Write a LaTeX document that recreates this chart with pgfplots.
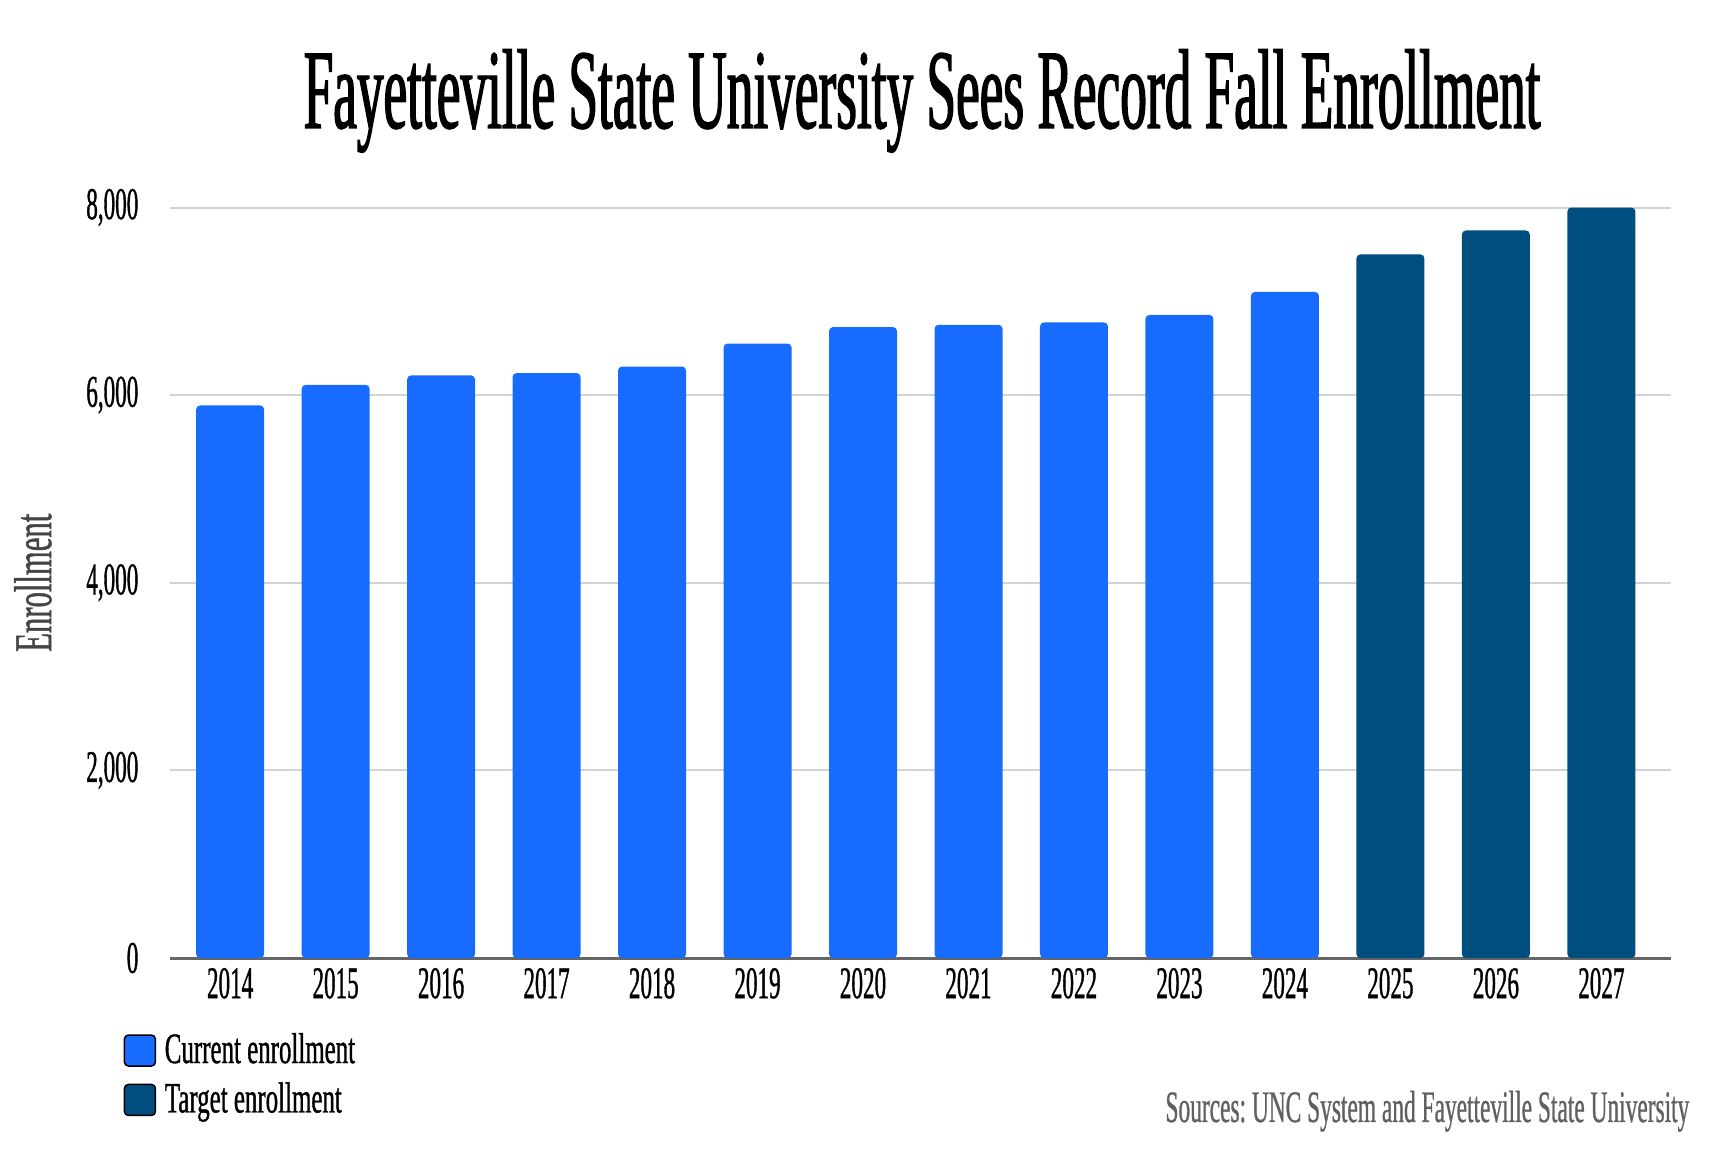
\documentclass[border=0pt]{standalone}
\usepackage{fontspec}
\usepackage{pgfplots}
\pgfplotsset{compat=1.18}
\setmainfont{Liberation Serif}
\newfontfamily\titlefont[FakeStretch=0.47, FakeBold=1.2]{Liberation Serif}
\newfontfamily\condfont[FakeStretch=0.575, FakeBold=0.8]{Liberation Serif}
\newfontfamily\srcfont[FakeStretch=0.52, FakeBold=0.6]{Liberation Serif}
\newfontfamily\numfont[FakeStretch=0.51, FakeBold=0.8]{Liberation Serif}
\frenchspacing

\definecolor{curblue}{HTML}{176CFF}
\definecolor{tgtblue}{HTML}{004E80}
\definecolor{gridgray}{HTML}{D3D3D3}
\definecolor{axisgray}{HTML}{666666}
\definecolor{labgray}{HTML}{454545}
\definecolor{srcgray}{HTML}{606060}

\begin{document}
\begin{tikzpicture}
\path[use as bounding box] (-51pt,-57.9pt) rectangle (465.9pt,287.4pt);

\begin{axis}[
    at={(0,0)}, anchor=south west,
    width=450.3pt, height=225.15pt, scale only axis,
    xmin=-0.57, xmax=13.66,
    ymin=0, ymax=8000,
    xtick={0,1,...,13},
    xticklabels={2014,2015,2016,2017,2018,2019,2020,2021,2022,2023,2024,2025,2026,2027},
    ytick={0,2000,4000,6000,8000},
    /pgf/number format/.cd, 1000 sep={,}, assume math mode=true,
    /pgfplots/.cd,
    scaled y ticks=false,
    major tick length=0pt,
    axis x line*=bottom, axis y line*=left,
    y axis line style={draw=none},
    x axis line style={draw=axisgray, line width=0.9pt},
    ymajorgrids,
    grid style={draw=gridgray, line width=0.6pt},
    yticklabel style={font=\numfont\fontsize{13.6}{15}\selectfont, anchor=east, inner sep=0pt, xshift=-9.3pt},
    xticklabel style={font=\numfont\fontsize{13.6}{15}\selectfont, anchor=north, inner sep=0pt, yshift=-2.8pt},
    ylabel={Enrollment},
    every axis y label/.style={at={(axis description cs:-0.0913,0.5)}, rotate=90, anchor=center,
        font=\condfont\fontsize{16}{18}\selectfont, text=labgray, inner sep=0pt},
    legend style={at={(axis description cs:0,0)}, anchor=north west,
        xshift=-14.1pt, yshift=-20.3pt, draw=none, fill=none, inner sep=0pt,
        row sep=0.3pt, font=\condfont\fontsize{13}{15}\selectfont,
        legend cell align=left},
    legend image code/.code={\draw[#1, draw=black, line width=0.45pt] (0pt,-4.65pt) rectangle (9.3pt,4.65pt);},
]
\addplot[ybar, bar width=20.4pt, bar shift=0pt, fill=curblue, draw=none, rounded corners=1.2pt]
coordinates {(0,5890) (1,6110) (2,6210) (3,6235) (4,6305) (5,6550) (6,6725) (7,6750) (8,6775) (9,6855) (10,7100)};
\addlegendentry{\hspace{0.6pt}Current enrollment}
\addplot[ybar, bar width=20.4pt, bar shift=0pt, fill=tgtblue, draw=none, rounded corners=1.2pt]
coordinates {(11,7500) (12,7755) (13,8000)};
\addlegendentry{\hspace{0.6pt}Target enrollment}
\end{axis}

\node[anchor=base, inner sep=0pt, font=\titlefont\fontsize{34}{40}\selectfont] at (225.6pt,249pt)
  {Fayetteville State University Sees Record Fall Enrollment};
\node[anchor=base east, inner sep=0pt, text=srcgray, font=\srcfont\fontsize{13.5}{16}\selectfont] at (456pt,-49.2pt)
  {Sources: UNC System and Fayetteville State University};
\end{tikzpicture}
\end{document}
